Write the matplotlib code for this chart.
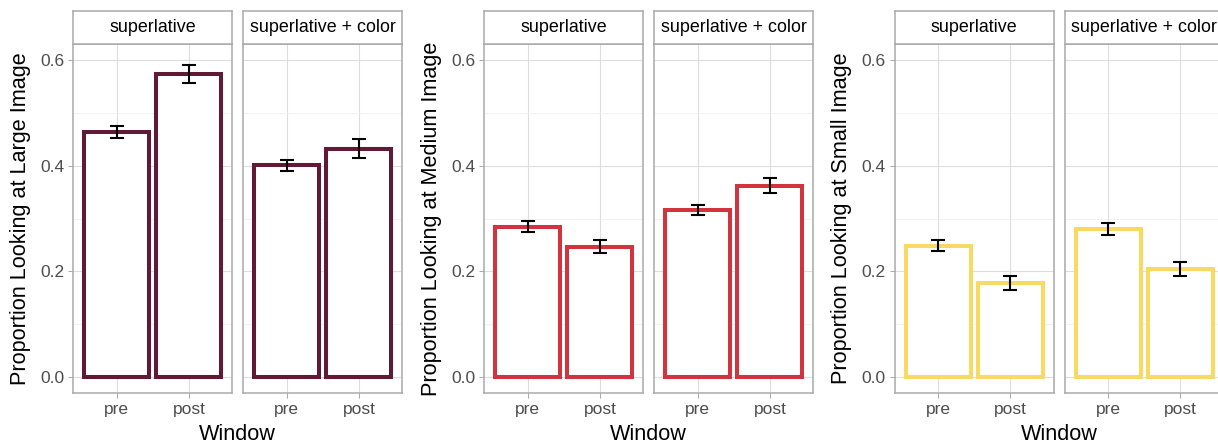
import matplotlib
matplotlib.use("Agg")
import matplotlib.pyplot as plt

plt.rcParams["font.family"] = ["Liberation Sans", "DejaVu Sans"]

# Datos: media y error estandar por ventana
WINDOWS = ["pre", "post"]
CONDITIONS = ["superlative", "superlative + color"]

LARGE_SUP = [0.464, 0.574]
LARGE_SUP_SE = [0.012, 0.0175]
LARGE_COL = [0.401, 0.432]
LARGE_COL_SE = [0.0105, 0.018]

MEDIUM_SUP = [0.285, 0.247]
MEDIUM_SUP_SE = [0.010, 0.012]
MEDIUM_COL = [0.317, 0.3625]
MEDIUM_COL_SE = [0.0093, 0.0148]

SMALL_SUP = [0.249, 0.1775]
SMALL_SUP_SE = [0.0105, 0.0134]
SMALL_COL = [0.2804, 0.2046]
SMALL_COL_SE = [0.0107, 0.013]

GROUPS = [
    ("Proportion Looking at Large Image", "#611A35",
     [(LARGE_SUP, LARGE_SUP_SE), (LARGE_COL, LARGE_COL_SE)]),
    ("Proportion Looking at Medium Image", "#D1343F",
     [(MEDIUM_SUP, MEDIUM_SUP_SE), (MEDIUM_COL, MEDIUM_COL_SE)]),
    ("Proportion Looking at Small Image", "#F8DA63",
     [(SMALL_SUP, SMALL_SUP_SE), (SMALL_COL, SMALL_COL_SE)]),
]

W, H = 1218, 444
BORDER = "#AAAAAA"
fig = plt.figure(figsize=(W / 100, H / 100), dpi=100)


def px_axes(left, top, right, bottom):
    return fig.add_axes([left / W, 1 - bottom / H, (right - left) / W, (bottom - top) / H])


group_lefts = [73.3, 484.3, 894.7]
facet_w, facet_gap = 159, 11
panel_top, panel_bottom, strip_top = 44.3, 392.7, 10.7

for g, (ylabel, color, facets) in enumerate(GROUPS):
    left0 = group_lefts[g]
    for f, (means, ses) in enumerate(facets):
        left = left0 + f * (facet_w + facet_gap)
        right = left + facet_w
        ax = px_axes(left, panel_top, right, panel_bottom)
        x = list(range(len(WINDOWS)))
        ax.bar(x, means, width=0.9, facecolor="white", edgecolor=color,
               linewidth=2.9, zorder=2)
        ax.errorbar(x, means, yerr=ses, fmt="none", ecolor="black",
                    elinewidth=1.5, capsize=4.8, capthick=1.5, zorder=3)
        ax.set_xlim(-0.6, 1.6)
        ax.set_ylim(-0.0297, 0.630)
        ax.set_xticks(x)
        ax.set_xticklabels(WINDOWS)
        ax.set_yticks([0.0, 0.2, 0.4, 0.6])
        ax.set_yticks([0.1, 0.3, 0.5], minor=True)
        ax.grid(True, which="major", color="#DEDEDE", linewidth=0.8, zorder=0)
        ax.grid(True, which="minor", axis="y", color="#EDEDED", linewidth=0.5, zorder=0)
        ax.set_axisbelow(True)
        ax.tick_params(which="major", length=3.6, width=0.75, color=BORDER,
                       labelsize=12.5, labelcolor="#4D4D4D", pad=3)
        ax.tick_params(which="minor", length=0)
        if f == 0:
            ax.set_yticklabels(["0.0", "0.2", "0.4", "0.6"])
        else:
            ax.tick_params(axis="y", length=0, labelleft=False)
        for sp in ax.spines.values():
            sp.set_color(BORDER)
            sp.set_linewidth(1.1)

        strip = px_axes(left, strip_top, right, panel_top)
        strip.set_xticks([])
        strip.set_yticks([])
        for sp in strip.spines.values():
            sp.set_color(BORDER)
            sp.set_linewidth(1.1)
        strip.text(0.5, 0.5, CONDITIONS[f], ha="center", va="center",
                   fontsize=12.9, color="black", transform=strip.transAxes)

    # titulos de eje por grupo
    fig.text((left0 - 53) / W, 1 - (panel_top + panel_bottom) / 2 / H, ylabel,
             rotation=90, ha="center", va="center", fontsize=15.6)
    center_x = left0 + (2 * facet_w + facet_gap) / 2
    fig.text(center_x / W, 1 - 439.5 / H, "Window", ha="center", va="baseline",
             fontsize=15.6)

fig.savefig("out.png", dpi=100, facecolor="white")
